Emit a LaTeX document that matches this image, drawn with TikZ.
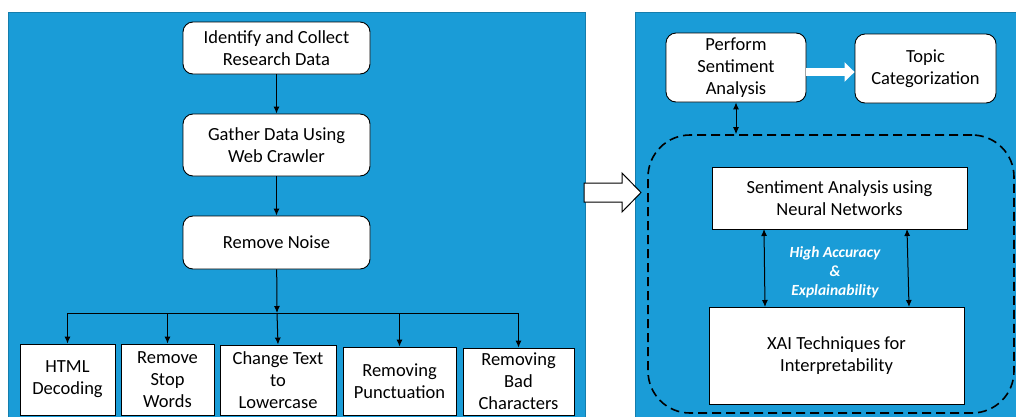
\documentclass[tikz,border=0pt]{standalone}
\usepackage{fontspec}
\setmainfont{Carlito}
\usetikzlibrary{arrows.meta}
\definecolor{panelblue}{HTML}{1A9CD7}
\tikzset{
  box/.style={draw=black, fill=white, line width=0.9pt, inner sep=0pt, align=center,
    font=\fontsize{18.5}{22}\selectfont},
  rbox/.style={box, rounded corners=10pt},
  conn/.style={line width=1pt, -{Latex[length=7pt,width=6pt]}},
  dconn/.style={line width=1pt, {Latex[length=7pt,width=6pt]}-{Latex[length=7pt,width=6pt]}},
  panel/.style={fill=panelblue, draw=panelblue!80!black, line width=0.4pt},
  note/.style={text=white, font=\fontsize{15.5}{19}\selectfont\bfseries\itshape, align=center, inner sep=0pt}
}
\begin{document}
\begin{tikzpicture}[x=1pt,y=-1pt]
\useasboundingbox (0,0) rectangle (1016,416);
\fill[white] (0,0) rectangle (1016,416);
% panels
\draw[panel] (8,12) rectangle (585,417);
\draw[panel] (635,12) rectangle (1017,417);

% left flow
\node[rbox, minimum width=187pt, minimum height=52pt] (ident) at (276.5,48) {Identify and Collect\\Research Data};
\node[rbox, minimum width=187pt, minimum height=62pt] (gather) at (276.5,145) {Gather Data Using\\Web Crawler};
\node[rbox, minimum width=187pt, minimum height=53pt] (noise) at (276.5,242.5) {Remove Noise};

\node[box, minimum width=95pt, minimum height=71pt] (html) at (67.5,379.5) {HTML\\Decoding};
\node[box, minimum width=93pt, minimum height=71pt] (stop) at (167.5,379.5) {Remove\\Stop\\Words};
\node[box, minimum width=116pt, minimum height=70pt] (lower) at (278,380) {Change Text\\to\\Lowercase};
\node[box, minimum width=113pt, minimum height=68pt] (punct) at (399.5,381) {Removing\\Punctuation};
\node[box, minimum width=111pt, minimum height=67pt] (bad) at (518.5,381.5) {Removing\\Bad\\Characters};

\coordinate (bus) at (277,313);
\draw[conn] (ident) -- (gather);
\draw[conn] (gather) -- (noise);
\draw[conn] (noise) -- (bus);
\draw[line width=1pt] (html.north |- bus) -- (bad.north |- bus);
\draw[conn] (html.north |- bus) -- (html.north);
\draw[conn] (stop.north |- bus) -- (stop.north);
\draw[conn] (bus) -- (lower.north);
\draw[conn] (punct.north |- bus) -- (punct.north);
\draw[conn] (bad.north |- bus) -- (bad.north);

% hollow arrow between panels
\draw[fill=white, line width=1pt] (584,183) -- (622,183) -- (622,173) -- (641,192.5) -- (622,212) -- (622,202) -- (584,202) -- cycle;

% right flow
\node[rbox, minimum width=140pt, minimum height=69pt] (perf) at (736,67.5) {Perform\\Sentiment\\Analysis};
\node[rbox, minimum width=141pt, minimum height=69pt] (topic) at (925.5,68.5) {Topic\\Categorization};
\draw[white, line width=8pt, -{Triangle[width=19pt,length=10pt]}] (perf.east |- 0,72) -- (topic.west |- 0,72);

\node[draw=black, dashed, dash pattern=on 9pt off 5pt, line width=1.6pt, rounded corners=42pt,
      minimum width=366pt, minimum height=278pt, inner sep=0pt] (group) at (831,274) {};
\draw[dconn] (perf.south) -- (perf.south |- group.north);

\node[box, minimum width=255pt, minimum height=62pt] (nn) at (839.5,198) {Sentiment Analysis using\\Neural Networks};
\node[box, minimum width=255pt, minimum height=97pt] (xai) at (836.5,355.5) {XAI Techniques for\\Interpretability};
\draw[dconn] (764,229) -- (765,307);
\draw[dconn] (907,229) -- (909,307);
\node[note] (acc) at (835,272) {High Accuracy\\\&\\Explainability};
\end{tikzpicture}
\end{document}
